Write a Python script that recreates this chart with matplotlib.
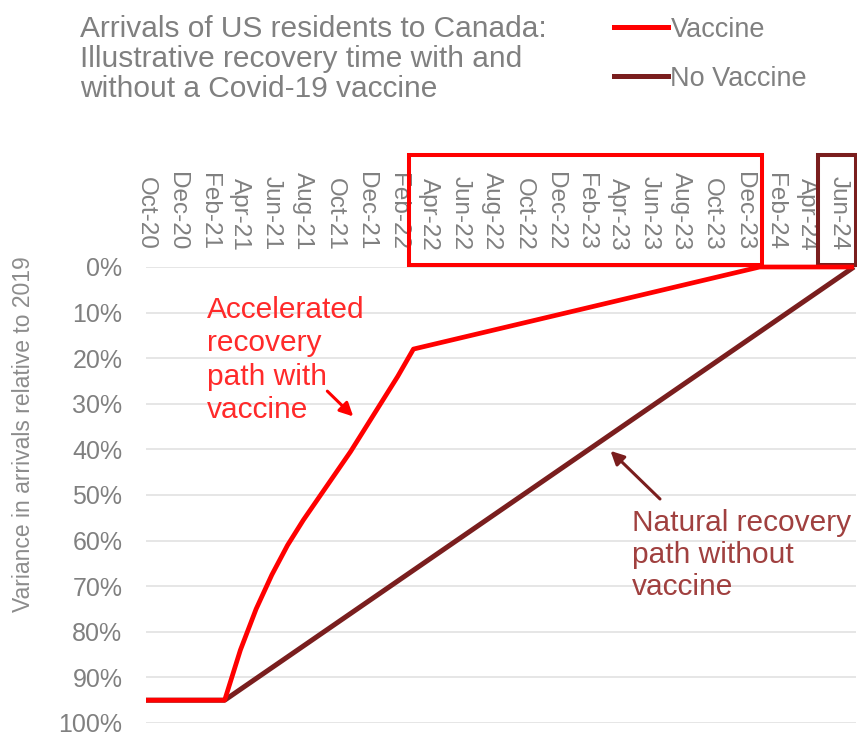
import matplotlib.pyplot as plt
import pandas as pd
from matplotlib.lines import Line2D
from matplotlib.patches import Rectangle
from matplotlib.transforms import blended_transform_factory

plt.rcParams["font.family"] = ["Liberation Sans", "DejaVu Sans"]

# monthly category axis, Oct-20 .. Jul-24
months = pd.date_range("2020-10-01", "2024-07-01", freq="MS")
month_labels = [m.strftime("%b-%y") for m in months]
tick_labels = month_labels[:-1:2]

# share of arrivals lost vs 2019 (%), read at the months where the path bends
vaccine_months = ["Oct-20", "Mar-21", "Apr-21", "May-21", "Jun-21", "Jul-21",
                  "Aug-21", "Sep-21", "Oct-21", "Nov-21", "Dec-21", "Jan-22",
                  "Feb-22", "Mar-22", "Jan-24", "Jul-24"]
vaccine_values = [95, 95, 84, 75, 67.5, 61, 55.5, 50.5, 45.5, 40.5, 35, 29.5, 24, 18, 0, 0]

no_vaccine_months = ["Oct-20", "Mar-21", "Jul-24"]
no_vaccine_values = [95, 95, 0]

y_ticks = list(range(0, 101, 10))

# highlighted label ranges on the date axis
highlight_vaccine = ("Apr-22", "Dec-23")
highlight_no_vaccine = ("Jun-24", "Jun-24")

RED = "#FF0000"
DARK_RED = "#7A1E1E"
GREY = "#808080"


def idx(label):
    return month_labels.index(label)


fig = plt.figure(figsize=(8.57, 7.36), dpi=100)
ax = fig.add_axes([146 / 857, 1 - 723 / 736, 709.5 / 857, 456 / 736])

ax.plot([idx(m) for m in no_vaccine_months], no_vaccine_values,
        color=DARK_RED, lw=3.6, clip_on=False, solid_capstyle="butt", zorder=3)
ax.plot([idx(m) for m in vaccine_months], vaccine_values,
        color=RED, lw=3.4, clip_on=False, solid_capstyle="butt",
        solid_joinstyle="round", zorder=4)

ax.set_xlim(0, 45.1)
ax.set_ylim(100, 0)
ax.set_yticks(y_ticks)
ax.set_yticklabels([f"{v}%" for v in y_ticks])
ax.set_xticks([idx(m) for m in tick_labels])
ax.set_xticklabels(tick_labels, rotation=-90)
ax.xaxis.tick_top()
ax.tick_params(axis="x", length=0, pad=12, labelsize=17.5, colors=GREY)
ax.tick_params(axis="y", length=0, pad=17, labelsize=18, colors=GREY)
ax.grid(axis="y", color="#E4E4E4", lw=1.3)
ax.set_axisbelow(True)
for s in ax.spines.values():
    s.set_visible(False)

# boxes around the recovery windows on the date labels
trans = blended_transform_factory(ax.transData, ax.transAxes)
for (first, last), color in [(highlight_vaccine, RED),
                             (highlight_no_vaccine, DARK_RED)]:
    x0 = idx(first) - 1.3
    x1 = idx(last) + 1.15
    ax.add_patch(Rectangle((x0, 1.004), x1 - x0, 0.241, transform=trans,
                           fill=False, ec=color, lw=2.9, clip_on=False))

# call-outs
ax.text(3.9, 6.3, "Accelerated\nrecovery\npath with\nvaccine", color="#FF2A2A",
        fontsize=21.5, va="top", ha="left", linespacing=1.25)
ax.annotate("", xy=(13.3, 33.2), xytext=(11.4, 26.8),
            arrowprops=dict(arrowstyle="-|>,head_length=0.8,head_width=0.4",
                            color=RED, lw=2.2))
ax.text(30.9, 53.0, "Natural recovery\npath without\nvaccine", color="#A0403F",
        fontsize=21.5, va="top", ha="left", linespacing=1.18)
ax.annotate("", xy=(29.4, 39.9), xytext=(32.8, 51.3),
            arrowprops=dict(arrowstyle="-|>,head_length=0.8,head_width=0.4",
                            color=DARK_RED, lw=2.2))

fig.text(24 / 857, 1 - 434 / 736, "Variance in arrivals relative to 2019",
         rotation=90, ha="center", va="center", fontsize=16.5, color="#8C8C8C")

fig.text(80 / 857, 1 - 15 / 736,
         "Arrivals of US residents to Canada:\nIllustrative recovery time with and\n"
         "without a Covid-19 vaccine",
         ha="left", va="top", fontsize=21.5, color=GREY, linespacing=1.08)

handles = [Line2D([], [], color=RED, lw=3.6),
           Line2D([], [], color=DARK_RED, lw=3.6)]
fig.legend(handles, ["Vaccine", "No Vaccine"], loc="upper left",
           bbox_to_anchor=(600 / 857, 1 - 3 / 736), frameon=False,
           fontsize=19.5, handlelength=2.0, handletextpad=0.1,
           labelspacing=0.85, labelcolor=GREY, borderpad=0)

fig.savefig("out.png", dpi=100)
